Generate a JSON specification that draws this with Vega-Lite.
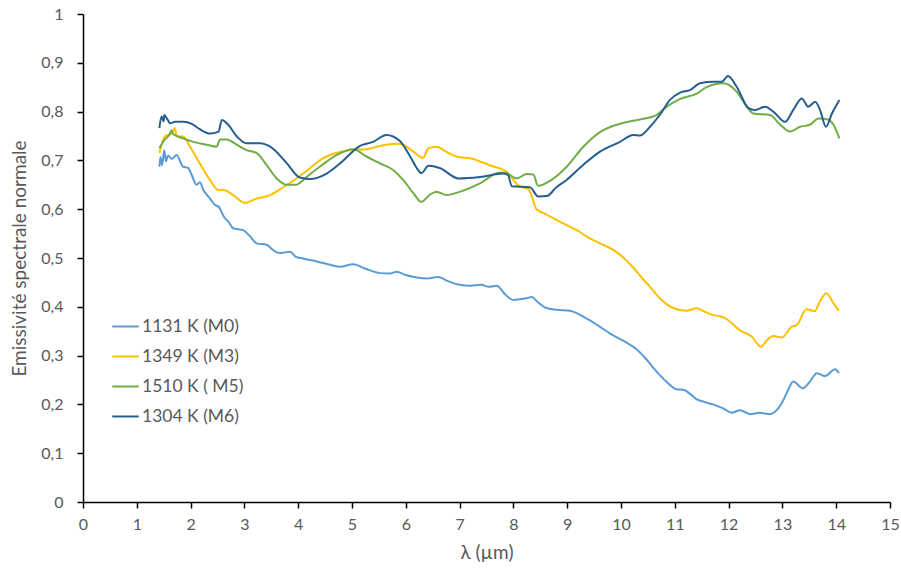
{
  "$schema": "https://vega.github.io/schema/vega-lite/v6.json",
  "autosize": "none",
  "width": 807,
  "height": 488,
  "padding": {"left": 83, "top": 14, "right": 11, "bottom": 67},
  "background": "white",
  "config": {
    "view": {"stroke": null},
    "font": "Lato",
    "axis": {
      "grid": false,
      "domainColor": "black",
      "domainWidth": 1.5,
      "tickColor": "black",
      "tickWidth": 1.5,
      "tickSize": 6,
      "labelColor": "#595959",
      "titleColor": "#595959",
      "labelFontSize": 16,
      "titleFontSize": 19,
      "labelFont": "Lato",
      "titleFont": "Lato",
      "titleFontWeight": "normal",
      "labelFlush": false
    }
  },
  "data": {"values": [
    {"k":"1131 K (M0)","x":1.42,"y":0.687},{"k":"1131 K (M0)","x":1.44,"y":0.707},{"k":"1131 K (M0)","x":1.47,"y":0.690},{"k":"1131 K (M0)","x":1.51,"y":0.721},{"k":"1131 K (M0)","x":1.54,"y":0.698},{"k":"1131 K (M0)","x":1.58,"y":0.710},{"k":"1131 K (M0)","x":1.65,"y":0.703},{"k":"1131 K (M0)","x":1.74,"y":0.711},{"k":"1131 K (M0)","x":1.86,"y":0.687},{"k":"1131 K (M0)","x":1.95,"y":0.685},{"k":"1131 K (M0)","x":2.02,"y":0.670},{"k":"1131 K (M0)","x":2.11,"y":0.650},{"k":"1131 K (M0)","x":2.17,"y":0.655},{"k":"1131 K (M0)","x":2.24,"y":0.639},{"k":"1131 K (M0)","x":2.36,"y":0.622},{"k":"1131 K (M0)","x":2.45,"y":0.609},{"k":"1131 K (M0)","x":2.52,"y":0.605},{"k":"1131 K (M0)","x":2.64,"y":0.581},{"k":"1131 K (M0)","x":2.70,"y":0.575},{"k":"1131 K (M0)","x":2.79,"y":0.561},{"k":"1131 K (M0)","x":2.98,"y":0.557},{"k":"1131 K (M0)","x":3.10,"y":0.545},{"k":"1131 K (M0)","x":3.23,"y":0.530},{"k":"1131 K (M0)","x":3.41,"y":0.527},{"k":"1131 K (M0)","x":3.55,"y":0.515},{"k":"1131 K (M0)","x":3.66,"y":0.510},{"k":"1131 K (M0)","x":3.85,"y":0.513},{"k":"1131 K (M0)","x":3.95,"y":0.503},{"k":"1131 K (M0)","x":4.09,"y":0.499},{"k":"1131 K (M0)","x":4.35,"y":0.493},{"k":"1131 K (M0)","x":4.59,"y":0.486},{"k":"1131 K (M0)","x":4.78,"y":0.482},{"k":"1131 K (M0)","x":5.02,"y":0.487},{"k":"1131 K (M0)","x":5.25,"y":0.478},{"k":"1131 K (M0)","x":5.52,"y":0.469},{"k":"1131 K (M0)","x":5.70,"y":0.468},{"k":"1131 K (M0)","x":5.83,"y":0.472},{"k":"1131 K (M0)","x":6.00,"y":0.465},{"k":"1131 K (M0)","x":6.20,"y":0.460},{"k":"1131 K (M0)","x":6.40,"y":0.458},{"k":"1131 K (M0)","x":6.60,"y":0.461},{"k":"1131 K (M0)","x":6.80,"y":0.452},{"k":"1131 K (M0)","x":7.00,"y":0.445},{"k":"1131 K (M0)","x":7.20,"y":0.443},{"k":"1131 K (M0)","x":7.40,"y":0.445},{"k":"1131 K (M0)","x":7.55,"y":0.441},{"k":"1131 K (M0)","x":7.69,"y":0.443},{"k":"1131 K (M0)","x":7.85,"y":0.425},{"k":"1131 K (M0)","x":8.00,"y":0.414},{"k":"1131 K (M0)","x":8.15,"y":0.416},{"k":"1131 K (M0)","x":8.26,"y":0.418},{"k":"1131 K (M0)","x":8.34,"y":0.420},{"k":"1131 K (M0)","x":8.45,"y":0.410},{"k":"1131 K (M0)","x":8.60,"y":0.398},{"k":"1131 K (M0)","x":8.80,"y":0.394},{"k":"1131 K (M0)","x":9.05,"y":0.392},{"k":"1131 K (M0)","x":9.30,"y":0.380},{"k":"1131 K (M0)","x":9.61,"y":0.359},{"k":"1131 K (M0)","x":9.80,"y":0.345},{"k":"1131 K (M0)","x":10.05,"y":0.330},{"k":"1131 K (M0)","x":10.29,"y":0.313},{"k":"1131 K (M0)","x":10.45,"y":0.295},{"k":"1131 K (M0)","x":10.60,"y":0.275},{"k":"1131 K (M0)","x":10.72,"y":0.260},{"k":"1131 K (M0)","x":10.88,"y":0.243},{"k":"1131 K (M0)","x":11.03,"y":0.231},{"k":"1131 K (M0)","x":11.16,"y":0.230},{"k":"1131 K (M0)","x":11.30,"y":0.220},{"k":"1131 K (M0)","x":11.40,"y":0.211},{"k":"1131 K (M0)","x":11.55,"y":0.205},{"k":"1131 K (M0)","x":11.71,"y":0.200},{"k":"1131 K (M0)","x":11.90,"y":0.192},{"k":"1131 K (M0)","x":12.06,"y":0.183},{"k":"1131 K (M0)","x":12.21,"y":0.188},{"k":"1131 K (M0)","x":12.40,"y":0.180},{"k":"1131 K (M0)","x":12.58,"y":0.183},{"k":"1131 K (M0)","x":12.77,"y":0.180},{"k":"1131 K (M0)","x":12.85,"y":0.184},{"k":"1131 K (M0)","x":13.00,"y":0.205},{"k":"1131 K (M0)","x":13.10,"y":0.228},{"k":"1131 K (M0)","x":13.20,"y":0.247},{"k":"1131 K (M0)","x":13.38,"y":0.233},{"k":"1131 K (M0)","x":13.50,"y":0.245},{"k":"1131 K (M0)","x":13.64,"y":0.264},{"k":"1131 K (M0)","x":13.79,"y":0.258},{"k":"1131 K (M0)","x":13.98,"y":0.272},{"k":"1131 K (M0)","x":14.05,"y":0.264},
    {"k":"1349 K (M3)","x":1.42,"y":0.715},{"k":"1349 K (M3)","x":1.52,"y":0.749},{"k":"1349 K (M3)","x":1.65,"y":0.755},{"k":"1349 K (M3)","x":1.71,"y":0.766},{"k":"1349 K (M3)","x":1.74,"y":0.749},{"k":"1349 K (M3)","x":1.86,"y":0.749},{"k":"1349 K (M3)","x":1.99,"y":0.728},{"k":"1349 K (M3)","x":2.17,"y":0.694},{"k":"1349 K (M3)","x":2.36,"y":0.660},{"k":"1349 K (M3)","x":2.52,"y":0.639},{"k":"1349 K (M3)","x":2.60,"y":0.640},{"k":"1349 K (M3)","x":2.79,"y":0.629},{"k":"1349 K (M3)","x":3.01,"y":0.613},{"k":"1349 K (M3)","x":3.23,"y":0.622},{"k":"1349 K (M3)","x":3.48,"y":0.629},{"k":"1349 K (M3)","x":3.72,"y":0.645},{"k":"1349 K (M3)","x":3.97,"y":0.663},{"k":"1349 K (M3)","x":4.22,"y":0.684},{"k":"1349 K (M3)","x":4.40,"y":0.700},{"k":"1349 K (M3)","x":4.59,"y":0.711},{"k":"1349 K (M3)","x":4.96,"y":0.721},{"k":"1349 K (M3)","x":5.27,"y":0.723},{"k":"1349 K (M3)","x":5.58,"y":0.731},{"k":"1349 K (M3)","x":5.89,"y":0.734},{"k":"1349 K (M3)","x":6.14,"y":0.718},{"k":"1349 K (M3)","x":6.32,"y":0.705},{"k":"1349 K (M3)","x":6.42,"y":0.725},{"k":"1349 K (M3)","x":6.57,"y":0.728},{"k":"1349 K (M3)","x":6.75,"y":0.718},{"k":"1349 K (M3)","x":6.94,"y":0.708},{"k":"1349 K (M3)","x":7.25,"y":0.703},{"k":"1349 K (M3)","x":7.56,"y":0.690},{"k":"1349 K (M3)","x":7.87,"y":0.677},{"k":"1349 K (M3)","x":8.00,"y":0.660},{"k":"1349 K (M3)","x":8.10,"y":0.648},{"k":"1349 K (M3)","x":8.28,"y":0.641},{"k":"1349 K (M3)","x":8.43,"y":0.600},{"k":"1349 K (M3)","x":8.60,"y":0.590},{"k":"1349 K (M3)","x":8.80,"y":0.578},{"k":"1349 K (M3)","x":9.00,"y":0.567},{"k":"1349 K (M3)","x":9.18,"y":0.557},{"k":"1349 K (M3)","x":9.42,"y":0.540},{"k":"1349 K (M3)","x":9.61,"y":0.530},{"k":"1349 K (M3)","x":9.92,"y":0.512},{"k":"1349 K (M3)","x":10.10,"y":0.495},{"k":"1349 K (M3)","x":10.23,"y":0.480},{"k":"1349 K (M3)","x":10.40,"y":0.458},{"k":"1349 K (M3)","x":10.54,"y":0.441},{"k":"1349 K (M3)","x":10.70,"y":0.420},{"k":"1349 K (M3)","x":10.85,"y":0.405},{"k":"1349 K (M3)","x":11.00,"y":0.396},{"k":"1349 K (M3)","x":11.22,"y":0.392},{"k":"1349 K (M3)","x":11.41,"y":0.397},{"k":"1349 K (M3)","x":11.55,"y":0.390},{"k":"1349 K (M3)","x":11.71,"y":0.383},{"k":"1349 K (M3)","x":11.85,"y":0.380},{"k":"1349 K (M3)","x":11.96,"y":0.375},{"k":"1349 K (M3)","x":12.10,"y":0.362},{"k":"1349 K (M3)","x":12.21,"y":0.352},{"k":"1349 K (M3)","x":12.43,"y":0.339},{"k":"1349 K (M3)","x":12.60,"y":0.318},{"k":"1349 K (M3)","x":12.70,"y":0.330},{"k":"1349 K (M3)","x":12.83,"y":0.340},{"k":"1349 K (M3)","x":12.99,"y":0.337},{"k":"1349 K (M3)","x":13.17,"y":0.359},{"k":"1349 K (M3)","x":13.27,"y":0.363},{"k":"1349 K (M3)","x":13.45,"y":0.395},{"k":"1349 K (M3)","x":13.60,"y":0.391},{"k":"1349 K (M3)","x":13.70,"y":0.412},{"k":"1349 K (M3)","x":13.82,"y":0.428},{"k":"1349 K (M3)","x":13.95,"y":0.407},{"k":"1349 K (M3)","x":14.05,"y":0.392},
    {"k":"1510 K ( M5)","x":1.42,"y":0.725},{"k":"1510 K ( M5)","x":1.50,"y":0.740},{"k":"1510 K ( M5)","x":1.60,"y":0.752},{"k":"1510 K ( M5)","x":1.65,"y":0.762},{"k":"1510 K ( M5)","x":1.67,"y":0.755},{"k":"1510 K ( M5)","x":1.77,"y":0.749},{"k":"1510 K ( M5)","x":1.86,"y":0.745},{"k":"1510 K ( M5)","x":2.05,"y":0.738},{"k":"1510 K ( M5)","x":2.30,"y":0.732},{"k":"1510 K ( M5)","x":2.48,"y":0.728},{"k":"1510 K ( M5)","x":2.55,"y":0.743},{"k":"1510 K ( M5)","x":2.67,"y":0.743},{"k":"1510 K ( M5)","x":2.86,"y":0.732},{"k":"1510 K ( M5)","x":3.04,"y":0.721},{"k":"1510 K ( M5)","x":3.23,"y":0.715},{"k":"1510 K ( M5)","x":3.41,"y":0.691},{"k":"1510 K ( M5)","x":3.60,"y":0.663},{"k":"1510 K ( M5)","x":3.79,"y":0.650},{"k":"1510 K ( M5)","x":3.97,"y":0.650},{"k":"1510 K ( M5)","x":4.03,"y":0.654},{"k":"1510 K ( M5)","x":4.20,"y":0.670},{"k":"1510 K ( M5)","x":4.40,"y":0.687},{"k":"1510 K ( M5)","x":4.71,"y":0.711},{"k":"1510 K ( M5)","x":5.02,"y":0.723},{"k":"1510 K ( M5)","x":5.27,"y":0.708},{"k":"1510 K ( M5)","x":5.52,"y":0.694},{"k":"1510 K ( M5)","x":5.77,"y":0.680},{"k":"1510 K ( M5)","x":5.95,"y":0.660},{"k":"1510 K ( M5)","x":6.14,"y":0.633},{"k":"1510 K ( M5)","x":6.29,"y":0.615},{"k":"1510 K ( M5)","x":6.45,"y":0.630},{"k":"1510 K ( M5)","x":6.57,"y":0.636},{"k":"1510 K ( M5)","x":6.76,"y":0.629},{"k":"1510 K ( M5)","x":7.01,"y":0.636},{"k":"1510 K ( M5)","x":7.38,"y":0.653},{"k":"1510 K ( M5)","x":7.75,"y":0.675},{"k":"1510 K ( M5)","x":7.87,"y":0.674},{"k":"1510 K ( M5)","x":8.06,"y":0.663},{"k":"1510 K ( M5)","x":8.25,"y":0.672},{"k":"1510 K ( M5)","x":8.37,"y":0.671},{"k":"1510 K ( M5)","x":8.46,"y":0.648},{"k":"1510 K ( M5)","x":8.68,"y":0.658},{"k":"1510 K ( M5)","x":8.99,"y":0.687},{"k":"1510 K ( M5)","x":9.30,"y":0.728},{"k":"1510 K ( M5)","x":9.61,"y":0.758},{"k":"1510 K ( M5)","x":9.98,"y":0.775},{"k":"1510 K ( M5)","x":10.35,"y":0.784},{"k":"1510 K ( M5)","x":10.66,"y":0.793},{"k":"1510 K ( M5)","x":10.85,"y":0.810},{"k":"1510 K ( M5)","x":11.10,"y":0.826},{"k":"1510 K ( M5)","x":11.41,"y":0.837},{"k":"1510 K ( M5)","x":11.59,"y":0.850},{"k":"1510 K ( M5)","x":11.90,"y":0.858},{"k":"1510 K ( M5)","x":12.00,"y":0.855},{"k":"1510 K ( M5)","x":12.15,"y":0.841},{"k":"1510 K ( M5)","x":12.34,"y":0.810},{"k":"1510 K ( M5)","x":12.46,"y":0.796},{"k":"1510 K ( M5)","x":12.77,"y":0.793},{"k":"1510 K ( M5)","x":12.96,"y":0.773},{"k":"1510 K ( M5)","x":13.14,"y":0.759},{"k":"1510 K ( M5)","x":13.33,"y":0.769},{"k":"1510 K ( M5)","x":13.51,"y":0.773},{"k":"1510 K ( M5)","x":13.67,"y":0.786},{"k":"1510 K ( M5)","x":13.85,"y":0.784},{"k":"1510 K ( M5)","x":13.95,"y":0.773},{"k":"1510 K ( M5)","x":14.06,"y":0.745},
    {"k":"1304 K (M6)","x":1.42,"y":0.766},{"k":"1304 K (M6)","x":1.46,"y":0.790},{"k":"1304 K (M6)","x":1.50,"y":0.780},{"k":"1304 K (M6)","x":1.51,"y":0.793},{"k":"1304 K (M6)","x":1.57,"y":0.784},{"k":"1304 K (M6)","x":1.62,"y":0.776},{"k":"1304 K (M6)","x":1.71,"y":0.779},{"k":"1304 K (M6)","x":1.86,"y":0.779},{"k":"1304 K (M6)","x":2.02,"y":0.775},{"k":"1304 K (M6)","x":2.17,"y":0.764},{"k":"1304 K (M6)","x":2.36,"y":0.755},{"k":"1304 K (M6)","x":2.52,"y":0.759},{"k":"1304 K (M6)","x":2.58,"y":0.783},{"k":"1304 K (M6)","x":2.70,"y":0.773},{"k":"1304 K (M6)","x":2.86,"y":0.749},{"k":"1304 K (M6)","x":3.04,"y":0.735},{"k":"1304 K (M6)","x":3.29,"y":0.735},{"k":"1304 K (M6)","x":3.48,"y":0.728},{"k":"1304 K (M6)","x":3.79,"y":0.694},{"k":"1304 K (M6)","x":4.03,"y":0.665},{"k":"1304 K (M6)","x":4.22,"y":0.662},{"k":"1304 K (M6)","x":4.53,"y":0.673},{"k":"1304 K (M6)","x":4.78,"y":0.694},{"k":"1304 K (M6)","x":5.15,"y":0.730},{"k":"1304 K (M6)","x":5.39,"y":0.738},{"k":"1304 K (M6)","x":5.64,"y":0.752},{"k":"1304 K (M6)","x":5.89,"y":0.740},{"k":"1304 K (M6)","x":6.08,"y":0.708},{"k":"1304 K (M6)","x":6.20,"y":0.685},{"k":"1304 K (M6)","x":6.29,"y":0.674},{"k":"1304 K (M6)","x":6.42,"y":0.689},{"k":"1304 K (M6)","x":6.64,"y":0.684},{"k":"1304 K (M6)","x":6.98,"y":0.663},{"k":"1304 K (M6)","x":7.38,"y":0.666},{"k":"1304 K (M6)","x":7.81,"y":0.673},{"k":"1304 K (M6)","x":7.90,"y":0.670},{"k":"1304 K (M6)","x":7.97,"y":0.647},{"k":"1304 K (M6)","x":8.31,"y":0.645},{"k":"1304 K (M6)","x":8.46,"y":0.626},{"k":"1304 K (M6)","x":8.62,"y":0.627},{"k":"1304 K (M6)","x":8.80,"y":0.645},{"k":"1304 K (M6)","x":8.99,"y":0.660},{"k":"1304 K (M6)","x":9.30,"y":0.691},{"k":"1304 K (M6)","x":9.61,"y":0.718},{"k":"1304 K (M6)","x":9.98,"y":0.738},{"k":"1304 K (M6)","x":10.23,"y":0.752},{"k":"1304 K (M6)","x":10.35,"y":0.751},{"k":"1304 K (M6)","x":10.54,"y":0.769},{"k":"1304 K (M6)","x":10.72,"y":0.793},{"k":"1304 K (M6)","x":10.91,"y":0.824},{"k":"1304 K (M6)","x":11.10,"y":0.839},{"k":"1304 K (M6)","x":11.28,"y":0.844},{"k":"1304 K (M6)","x":11.47,"y":0.858},{"k":"1304 K (M6)","x":11.72,"y":0.861},{"k":"1304 K (M6)","x":11.87,"y":0.861},{"k":"1304 K (M6)","x":11.99,"y":0.873},{"k":"1304 K (M6)","x":12.15,"y":0.851},{"k":"1304 K (M6)","x":12.37,"y":0.807},{"k":"1304 K (M6)","x":12.49,"y":0.803},{"k":"1304 K (M6)","x":12.68,"y":0.810},{"k":"1304 K (M6)","x":12.83,"y":0.800},{"k":"1304 K (M6)","x":13.05,"y":0.779},{"k":"1304 K (M6)","x":13.20,"y":0.803},{"k":"1304 K (M6)","x":13.36,"y":0.827},{"k":"1304 K (M6)","x":13.48,"y":0.810},{"k":"1304 K (M6)","x":13.61,"y":0.820},{"k":"1304 K (M6)","x":13.70,"y":0.803},{"k":"1304 K (M6)","x":13.81,"y":0.769},{"k":"1304 K (M6)","x":13.92,"y":0.796},{"k":"1304 K (M6)","x":14.06,"y":0.824}
  ]},
  "mark": {"type": "line", "strokeWidth": 2, "interpolate": "monotone"},
  "encoding": {
    "x": {
      "field": "x", "type": "quantitative",
      "scale": {"domain": [0, 15], "nice": false, "zero": false},
      "axis": {"values": [0,1,2,3,4,5,6,7,8,9,10,11,12,13,14,15], "title": "λ (µm)", "labelPadding": 8, "titlePadding": 11}
    },
    "y": {
      "field": "y", "type": "quantitative",
      "scale": {"domain": [0, 1], "nice": false},
      "axis": {"values": [0,0.1,0.2,0.3,0.4,0.5,0.6,0.7,0.8,0.9,1], "labelExpr": "replace(toString(datum.value), '.', ',')", "title": "Emissivité spectrale normale", "labelPadding": 14, "titlePadding": 11}
    },
    "color": {
      "field": "k", "type": "nominal",
      "scale": {"domain": ["1131 K (M0)", "1349 K (M3)", "1510 K ( M5)", "1304 K (M6)"], "range": ["#5B9BD5", "#FFC000", "#70AD47", "#255E91"]},
      "legend": {"title": null, "orient": "none", "legendX": 28, "legendY": 298, "symbolType": "stroke", "symbolSize": 700, "symbolStrokeWidth": 2, "labelFontSize": 17.5, "labelColor": "#595959", "labelFont": "Lato", "rowPadding": 7, "labelOffset": 2}
    }
  }
}
